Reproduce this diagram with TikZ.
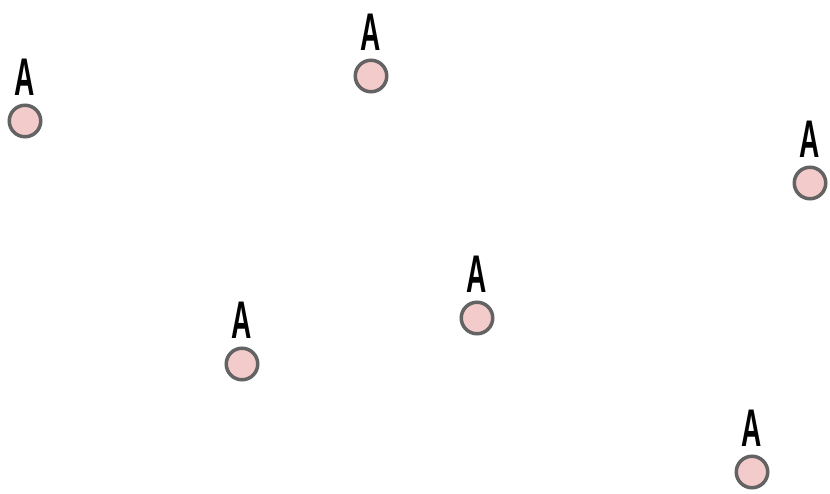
\documentclass[tikz,border=0pt]{standalone}
\usepackage{fontspec}
\newfontfamily\lblfont{Liberation Sans}
\definecolor{dotfill}{HTML}{F4CBCB}
\definecolor{dotline}{HTML}{636363}
\tikzset{
  dot/.style={circle, draw=dotline, fill=dotfill, line width=3.5pt, minimum size=31.5pt, inner sep=0pt},
  lbl/.style={anchor=base, inner sep=0pt, font=\lblfont\bfseries\fontsize{53}{53}\selectfont}
}
\newcommand{\Alabel}{\scalebox{0.53}[1]{A}}
\begin{document}
\begin{tikzpicture}[x=1pt,y=-1pt]
\useasboundingbox (0,0) rectangle (830,493);
\foreach \n/\cx/\cy in {a/25/121, b/371/76, c/810/183, d/477/318, e/242/364, f/752/472}{
  \node[dot] (\n) at (\cx,\cy) {};
  \node[lbl] (\n l) at (\cx,\cy-26) {\Alabel};
}
\end{tikzpicture}
\end{document}
